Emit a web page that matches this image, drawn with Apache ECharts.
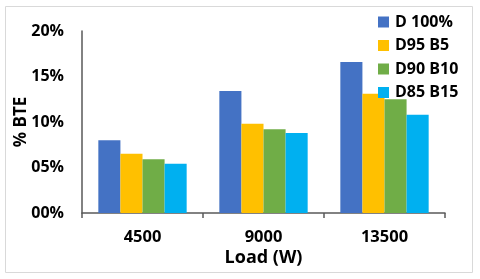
<!DOCTYPE html>
<html><head><meta charset="utf-8">
<script src="https://cdn.jsdelivr.net/npm/echarts@6/dist/echarts.min.js"></script>
<style>html,body{margin:0;padding:0;background:#fff}#c{width:480px;height:279px}</style>
</head><body><div id="c"></div>
<script>
const categories = ['4500', '9000', '13500'];
const seriesNames = ['D 100%', 'D95 B5', 'D90 B10', 'D85 B15'];
const d100 = [8.0, 13.4, 16.6];
const d95b5 = [6.5, 9.8, 13.1];
const d90b10 = [5.9, 9.2, 12.5];
const d85b15 = [5.4, 8.8, 10.8];
const colors = ['#4472C4', '#FFC000', '#70AD47', '#00B0F0'];
const values = [d100, d95b5, d90b10, d85b15];

const chart = echarts.init(document.getElementById('c'), null, {renderer: 'canvas'});
const font = '"Open Sans", sans-serif';
const txt = {fontFamily: font, fontWeight: 'bold', color: '#000'};
chart.setOption({
  animation: false,
  graphic: [{type: 'rect', shape: {x: 5.5, y: 6.5, width: 467, height: 266}, style: {fill: 'none', stroke: '#d9d9d9', lineWidth: 1}}],
  grid: {left: 82, right: 35, top: 31, bottom: 66, containLabel: false, outerBoundsMode: 'none'},
  legend: {
    orient: 'vertical', left: 373, top: 9, itemWidth: 11, itemHeight: 11, itemGap: 7.5,
    icon: 'rect',
    textStyle: Object.assign({}, txt, {fontSize: 16, lineHeight: 12, padding: [0, 0, 0, 1]}),
    data: seriesNames
  },
  xAxis: {
    type: 'category', data: categories,
    name: 'Load (W)', nameLocation: 'middle', nameGap: 36, nameMoveOverlap: false,
    nameTextStyle: Object.assign({}, txt, {fontSize: 18}),
    axisLine: {lineStyle: {color: '#595959', width: 1.5}},
    axisTick: {show: true, length: 5, lineStyle: {color: '#595959', width: 1.5}},
    axisLabel: Object.assign({}, txt, {fontSize: 16.5, margin: 16})
  },
  yAxis: {
    type: 'value', min: 0, max: 20, interval: 5,
    name: '% BTE', nameLocation: 'middle', nameGap: 52, nameRotate: 90, nameMoveOverlap: false,
    nameTextStyle: Object.assign({}, txt, {fontSize: 17}),
    axisLine: {show: true, lineStyle: {color: '#595959', width: 1.5}},
    axisTick: {show: false},
    splitLine: {show: false},
    axisLabel: Object.assign({}, txt, {fontSize: 16, margin: 18,
      formatter: v => (v < 10 ? '0' + v : '' + v) + '%'})
  },
  series: values.map((vals, i) => ({
    name: seriesNames[i], type: 'bar', data: vals,
    barGap: '0%', barCategoryGap: '27%',
    itemStyle: {color: colors[i]}
  }))
});
</script></body></html>
